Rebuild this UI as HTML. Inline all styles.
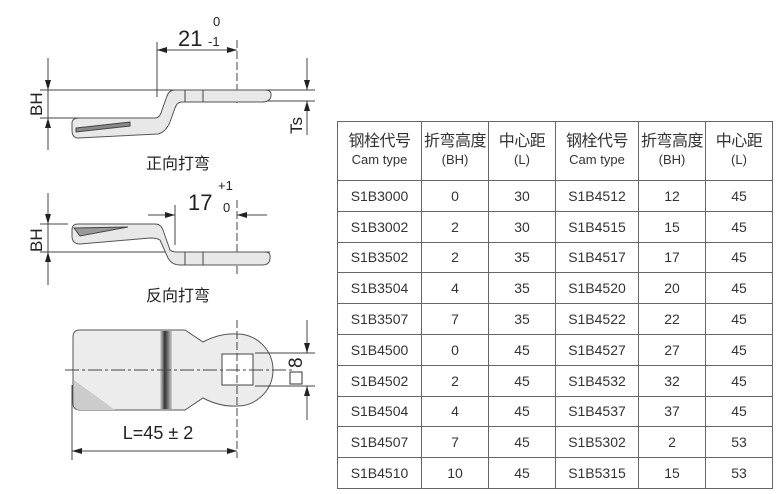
<!DOCTYPE html>
<html><head><meta charset="utf-8"><style>
body{margin:0;background:#fff;width:780px;height:494px;overflow:hidden;font-family:"Liberation Sans","Noto Sans CJK SC",sans-serif}
svg{position:absolute;left:0;top:0}
table{position:absolute;left:337px;top:121px;border-collapse:collapse;table-layout:fixed}
td{border:1.5px solid #666;text-align:center;color:#333;font-size:14px;padding:0;height:29.8px;white-space:nowrap;overflow:hidden}
tr.h td{height:58px;font-size:16px;line-height:18px;letter-spacing:-0.5px}
tr.h td span{font-size:13px;letter-spacing:0}
</style></head><body>
<svg width="336" height="494" viewBox="0 0 336 494">
<defs>
<marker id="a" viewBox="0 0 10 6" refX="10" refY="3" markerWidth="10" markerHeight="6" orient="auto-start-reverse"><path d="M0,0L10,3L0,6z" fill="#222"/></marker>
<linearGradient id="band" x1="0" x2="1"><stop offset="0" stop-color="#ddd"/><stop offset=".4" stop-color="#333"/><stop offset="1" stop-color="#ccc"/></linearGradient>
</defs>
<g stroke="#444" stroke-width="1" fill="none">
<line x1="40" y1="90" x2="315" y2="90"/><line x1="40" y1="118" x2="160" y2="118"/><line x1="225" y1="101" x2="315" y2="101"/>
<line x1="157" y1="42" x2="157" y2="97"/><line x1="237" y1="40" x2="237" y2="105" stroke-dasharray="8,3"/>
<line x1="157" y1="50" x2="237" y2="50" marker-start="url(#a)" marker-end="url(#a)"/>
<line x1="48" y1="58" x2="48" y2="90" marker-end="url(#a)"/><line x1="48" y1="118" x2="48" y2="150" marker-start="url(#a)"/><line x1="48" y1="90" x2="48" y2="118"/>
<line x1="307" y1="58" x2="307" y2="90" marker-end="url(#a)"/><line x1="307" y1="101" x2="307" y2="135" marker-start="url(#a)"/>
<path d="M172,90H265Q272,90 271,96Q270,102 262,102H182Q177,102 175,108L170,122Q166,132 158,134L78,138Q72,138 72,130V123Q72,118 80,118H155Q160,118 162,110L167,96Q169,90 175,90Z" fill="#e8e8e8" stroke="#555"/>
<path d="M76,128L130,122L130,126L76,132Z" fill="#888"/>
<line x1="185" y1="90" x2="185" y2="102"/><line x1="203" y1="90" x2="203" y2="102"/>
<line x1="40" y1="224" x2="68" y2="224"/><line x1="40" y1="252" x2="270" y2="252"/>
<line x1="175" y1="205" x2="175" y2="245"/><line x1="237" y1="200" x2="237" y2="275" stroke-dasharray="8,3"/>
<line x1="148" y1="215" x2="175" y2="215" marker-end="url(#a)"/><line x1="267" y1="215" x2="237" y2="215" marker-end="url(#a)"/>
<line x1="48" y1="193" x2="48" y2="224" marker-end="url(#a)"/><line x1="48" y1="252" x2="48" y2="285" marker-start="url(#a)"/><line x1="48" y1="224" x2="48" y2="252"/>
<path d="M78,224H155Q161,224 163,230L170,250Q172,252 178,252H265Q271,252 270,258Q270,265 262,265H180Q172,265 168,258L160,240Q157,238 150,238L80,244Q72,244 72,236V230Q72,224 78,224Z" fill="#e8e8e8" stroke="#555"/>
<path d="M74,228L128,227L80,236Z" fill="#999"/>
<line x1="185" y1="252" x2="185" y2="265"/><line x1="203" y1="252" x2="203" y2="265"/>
<path d="M80,330H185L203,342Q220,333 237,334A36,36 0 0 1 237,406Q220,407 203,398L185,410H80Q73,410 73,403V337Q73,330 80,330Z" fill="#ececec" stroke="#555"/>
<path d="M74,380L115,410H80Q74,410 74,403Z" fill="#ccc" stroke="none"/>
<rect x="160" y="331" width="12" height="78" fill="url(#band)" stroke="none"/>
<rect x="222" y="354" width="31" height="31" fill="#fff" stroke="#444"/>
<line x1="65" y1="370" x2="295" y2="370" stroke-dasharray="14,3,3,3"/>
<line x1="237" y1="320" x2="237" y2="458" stroke-dasharray="8,3"/>
<line x1="255" y1="353" x2="315" y2="353"/><line x1="255" y1="386" x2="315" y2="386"/>
<line x1="307" y1="320" x2="307" y2="353" marker-end="url(#a)"/><line x1="307" y1="386" x2="307" y2="420" marker-start="url(#a)"/>
<rect x="290" y="372" width="12" height="12" stroke="#333"/>
<line x1="72" y1="385" x2="72" y2="460"/>
<line x1="72" y1="451" x2="237" y2="451" marker-start="url(#a)" marker-end="url(#a)"/>
</g>
<g fill="#222" font-family="Liberation Sans, sans-serif">
<text x="178" y="46" font-size="22">21</text><text x="208" y="46" font-size="13">-1</text><text x="213" y="26" font-size="13">0</text>
<text x="188" y="210" font-size="22">17</text><text x="218" y="190" font-size="13">+1</text><text x="223" y="212" font-size="13">0</text>
<text transform="translate(42,116) rotate(-90)" font-size="17">BH</text>
<text transform="translate(42,252) rotate(-90)" font-size="17">BH</text>
<text transform="translate(302,134) rotate(-90)" font-size="17">Ts</text>
<text transform="translate(302,368) rotate(-90)" font-size="19">8</text>
<text x="158" y="439" font-size="18" text-anchor="middle">L=45 ± 2</text>
<text x="178" y="169" font-size="16" text-anchor="middle" font-family="Noto Sans CJK SC, sans-serif">正向打弯</text>
<text x="178" y="301" font-size="16" text-anchor="middle" font-family="Noto Sans CJK SC, sans-serif">反向打弯</text>
</g>
</svg>
<table>
<colgroup><col style="width:84px"><col style="width:67px"><col style="width:67px"><col style="width:83px"><col style="width:67px"><col style="width:67px"></colgroup>
<tr class="h"><td>钢栓代号<br><span>Cam type</span></td><td>折弯高度<br><span>(BH)</span></td><td>中心距<br><span>(L)</span></td><td>钢栓代号<br><span>Cam type</span></td><td>折弯高度<br><span>(BH)</span></td><td>中心距<br><span>(L)</span></td></tr>
<tr><td>S1B3000</td><td>0</td><td>30</td><td>S1B4512</td><td>12</td><td>45</td></tr>
<tr><td>S1B3002</td><td>2</td><td>30</td><td>S1B4515</td><td>15</td><td>45</td></tr>
<tr><td>S1B3502</td><td>2</td><td>35</td><td>S1B4517</td><td>17</td><td>45</td></tr>
<tr><td>S1B3504</td><td>4</td><td>35</td><td>S1B4520</td><td>20</td><td>45</td></tr>
<tr><td>S1B3507</td><td>7</td><td>35</td><td>S1B4522</td><td>22</td><td>45</td></tr>
<tr><td>S1B4500</td><td>0</td><td>45</td><td>S1B4527</td><td>27</td><td>45</td></tr>
<tr><td>S1B4502</td><td>2</td><td>45</td><td>S1B4532</td><td>32</td><td>45</td></tr>
<tr><td>S1B4504</td><td>4</td><td>45</td><td>S1B4537</td><td>37</td><td>45</td></tr>
<tr><td>S1B4507</td><td>7</td><td>45</td><td>S1B5302</td><td>2</td><td>53</td></tr>
<tr><td>S1B4510</td><td>10</td><td>45</td><td>S1B5315</td><td>15</td><td>53</td></tr>
</table>
</body></html>
